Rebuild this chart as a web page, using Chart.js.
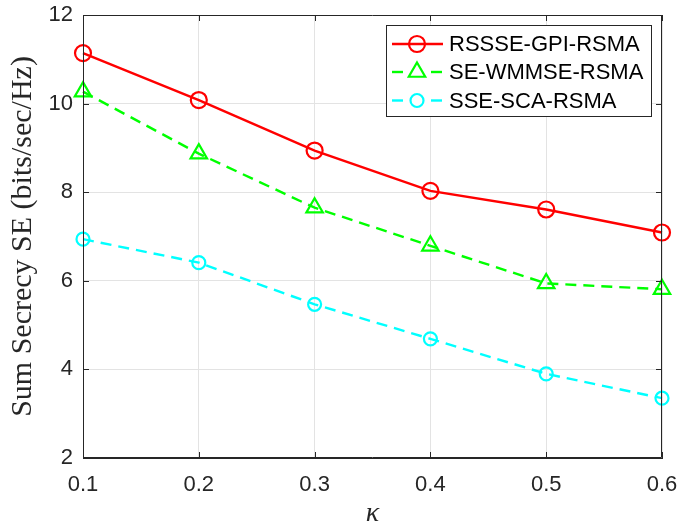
<!DOCTYPE html>
<html><head><meta charset="utf-8">
<script src="https://cdn.jsdelivr.net/npm/chart.js@4/dist/chart.umd.min.js"></script>
<style>html,body{margin:0;padding:0;background:#fff;}#wrap{width:694px;height:524px;}</style>
</head><body><div id="wrap"><canvas id="c" width="694" height="524"></canvas></div>
<script>
const kappa = [0.1, 0.2, 0.3, 0.4, 0.5, 0.6];
const rssseGpiRsma = [11.14, 10.08, 8.94, 8.03, 7.61, 7.09];
const seWmmseRsma = [10.27, 8.87, 7.65, 6.79, 5.94, 5.81];
const sseScaRsma = [6.94, 6.41, 5.47, 4.69, 3.90, 3.35];
const seriesNames = ['RSSSE-GPI-RSMA', 'SE-WMMSE-RSMA', 'SSE-SCA-RSMA'];
const xTickValues = [0.1, 0.2, 0.3, 0.4, 0.5, 0.6];
const yTickValues = [2, 4, 6, 8, 10, 12];
const xTitle = 'κ';
const yTitle = 'Sum Secrecy SE (bits/sec/Hz)';

const AX = '#262626';
const toXY = (ys) => kappa.map((x, i) => ({x: x, y: ys[i]}));

const styles = [
  {color: '#ff0000', dash: [], point: 'circle', r: 8},
  {color: '#00ff00', dash: [11, 7], point: 'triangle', r: 9.5},
  {color: '#00ffff', dash: [11, 7], point: 'circle', r: 6.5}
];
const seriesData = [rssseGpiRsma, seWmmseRsma, sseScaRsma];

const datasets = seriesData.map((d, i) => ({
  label: seriesNames[i],
  data: toXY(d),
  borderColor: styles[i].color,
  borderWidth: 2.4,
  borderDash: styles[i].dash,
  pointStyle: styles[i].point,
  pointRadius: styles[i].r,
  pointHoverRadius: styles[i].r,
  pointBorderColor: styles[i].color,
  pointBackgroundColor: 'rgba(0,0,0,0)',
  pointBorderWidth: 2.2,
  tension: 0,
  fill: false,
  clip: false
}));

const boxPlugin = {
  id: 'boxPlugin',
  afterDatasetsDraw(chart) {
    const {ctx, chartArea: a, scales} = chart;
    ctx.save();
    ctx.strokeStyle = AX;
    ctx.lineWidth = 1;
    ctx.beginPath();
    ctx.rect(a.left + 0.5, a.top + 0.5, a.right - a.left - 1, a.bottom - a.top - 1);
    ctx.stroke();
    const tl = 6;
    ctx.beginPath();
    xTickValues.forEach(v => {
      const px = Math.round(scales.x.getPixelForValue(v)) + 0.5;
      ctx.moveTo(px, a.bottom); ctx.lineTo(px, a.bottom - tl);
      ctx.moveTo(px, a.top); ctx.lineTo(px, a.top + tl);
    });
    yTickValues.forEach(v => {
      const py = Math.round(scales.y.getPixelForValue(v)) + 0.5;
      ctx.moveTo(a.left, py); ctx.lineTo(a.left + tl, py);
      ctx.moveTo(a.right, py); ctx.lineTo(a.right - tl, py);
    });
    ctx.stroke();

    // legend
    const lx = 386, ly = 25, lw = 265, lh = 91;
    ctx.fillStyle = '#ffffff';
    ctx.fillRect(lx, ly, lw, lh);
    ctx.strokeStyle = AX;
    ctx.strokeRect(lx + 0.5, ly + 0.5, lw, lh);
    const rows = [44, 72, 100.5];
    chart.data.datasets.forEach((ds, i) => {
      const y = rows[i];
      ctx.save();
      ctx.strokeStyle = ds.borderColor;
      ctx.fillStyle = 'rgba(0,0,0,0)';
      ctx.lineWidth = 2.4;
      if (ds.borderDash.length) {
        ctx.beginPath(); ctx.moveTo(392, y); ctx.lineTo(403, y); ctx.stroke();
        ctx.beginPath(); ctx.moveTo(431, y); ctx.lineTo(442, y); ctx.stroke();
      } else {
        ctx.beginPath(); ctx.moveTo(392, y); ctx.lineTo(443, y); ctx.stroke();
      }
      ctx.lineWidth = 2.2;
      Chart.helpers.drawPoint(ctx, {
        pointStyle: ds.pointStyle, radius: ds.pointRadius, rotation: 0, borderWidth: 2.2
      }, 417, y);
      ctx.restore();
      ctx.fillStyle = '#000000';
      ctx.font = '22px "Liberation Sans", Arial, sans-serif';
      ctx.textBaseline = 'middle';
      ctx.textAlign = 'left';
      ctx.fillText(ds.label, 449, y + 1);
    });
    ctx.restore();
  }
};

new Chart(document.getElementById('c'), {
  type: 'line',
  data: {datasets: datasets},
  options: {
    responsive: false,
    animation: false,
    events: [],
    layout: {padding: {left: 0, right: 32, top: 15, bottom: 0}},
    plugins: {legend: {display: false}, tooltip: {enabled: false}},
    scales: {
      x: {
        type: 'linear', min: 0.1, max: 0.6,
        afterBuildTicks: (s) => { s.ticks = xTickValues.map(v => ({value: v})); },
        afterFit: (s) => { s.height = 66; s.paddingLeft = 0; s.paddingRight = 0; },
        ticks: {
          color: AX, padding: 14, maxRotation: 0, autoSkip: false,
          font: {family: '"Liberation Sans", Arial, sans-serif', size: 22},
          callback: (v) => v.toFixed(1)
        },
        grid: {color: '#e3e3e3', lineWidth: 1, drawTicks: false},
        border: {color: AX, width: 1},
        title: {display: true, text: xTitle, color: AX,
          font: {family: '"Liberation Serif", "Times New Roman", serif', size: 28, style: 'italic', lineHeight: 1},
          padding: {top: 0, bottom: -4}}
      },
      y: {
        type: 'linear', min: 2, max: 12,
        afterBuildTicks: (s) => { s.ticks = yTickValues.map(v => ({value: v})); },
        afterFit: (s) => { s.width = 83; s.paddingTop = 0; s.paddingBottom = 0; },
        ticks: {
          color: AX, padding: 10,
          font: {family: '"Liberation Sans", Arial, sans-serif', size: 22}
        },
        grid: {color: '#e3e3e3', lineWidth: 1, drawTicks: false},
        border: {color: AX, width: 1},
        title: {display: true, text: yTitle, color: AX,
          font: {family: '"Liberation Serif", "Times New Roman", serif', size: 30, lineHeight: 1},
          padding: {top: 8, bottom: 0}}
      }
    }
  },
  plugins: [boxPlugin]
});
</script>
</body></html>
